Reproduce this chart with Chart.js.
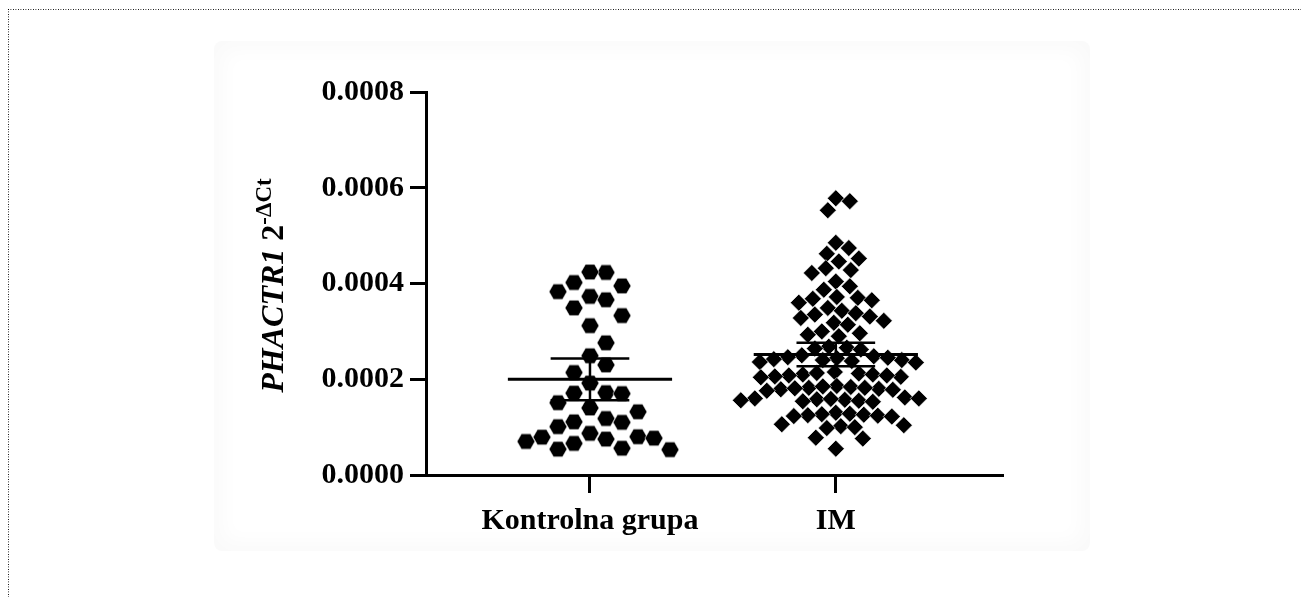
<!DOCTYPE html>
<html lang="sr">
<head>
<meta charset="UTF-8">
<title>PHACTR1 2-ΔCt</title>
<script src="https://cdn.jsdelivr.net/npm/chart.js"></script>
<style>
    body {
        margin: 0;
        background: #fff;
        width: 1301px;
        height: 597px;
        overflow: hidden;
        position: relative;
    }
    .dots-top {
        position: absolute; left: 8px; top: 9px; width: 1293px; height: 1px;
        background-image: linear-gradient(to right, #000 1px, transparent 1px);
        background-size: 2.5px 1px;
    }
    .dots-left {
        position: absolute; left: 8px; top: 9px; width: 1px; height: 588px;
        background-image: linear-gradient(to bottom, #000 1px, transparent 1px);
        background-size: 1px 2.5px;
    }
    .frame {
        position: absolute; left: 214px; top: 41px; width: 876px; height: 510px;
        border-radius: 8px;
        box-shadow: inset 0 0 20px 9px rgba(0, 0, 0, 0.022);
    }
    #wrap { position: absolute; left: 0; top: 0; width: 1301px; height: 597px; }
</style>
</head>
<body>
<div class="dots-top"></div>
<div class="dots-left"></div>
<div class="frame"></div>
<div id="wrap"><canvas id="c"></canvas></div>

<script>
    const categories = ['Kontrolna grupa', 'IM'];

    const kontrolna = [
        0.000423, 0.000424, 0.000402, 0.000395, 0.000383, 0.000373, 0.000366, 0.000349,
        0.000333, 0.000312, 0.000276, 0.000249, 0.000230, 0.000214, 0.000192, 0.000172,
        0.000171, 0.000170, 0.000151, 0.000140, 0.000132, 0.000118, 0.000111, 0.000110,
        0.000101, 0.000087, 0.000080, 0.000079, 0.000077, 0.000075, 0.000070, 0.000066,
        0.000056, 0.000054, 0.000053
    ];

    const im = [
        0.000578, 0.000572, 0.000553,
        0.000485, 0.000474, 0.000462, 0.000452, 0.000446,
        0.000432, 0.000428, 0.000422, 0.000404, 0.000394, 0.000387,
        0.000372, 0.000370, 0.000368, 0.000365, 0.000360,
        0.000349, 0.000343, 0.000338, 0.000335, 0.000331, 0.000328,
        0.000322, 0.000318, 0.000314, 0.000300,
        0.000296, 0.000293, 0.000290,
        0.000268, 0.000266, 0.000264, 0.000262,
        0.000250, 0.000248, 0.000246, 0.000244, 0.000242, 0.000240, 0.000238, 0.000236,
        0.000240, 0.000245, 0.000235,
        0.000215, 0.000212, 0.000210, 0.000208, 0.000206, 0.000210, 0.000213, 0.000205,
        0.000208, 0.000204,
        0.000186, 0.000184, 0.000182, 0.000180, 0.000178, 0.000182, 0.000185, 0.000179,
        0.000181, 0.000176,
        0.000162, 0.000160, 0.000158, 0.000156, 0.000154, 0.000157, 0.000159, 0.000155,
        0.000153, 0.000160,
        0.000130, 0.000128, 0.000126, 0.000124, 0.000122, 0.000127, 0.000125, 0.000123,
        0.000104, 0.000102, 0.000100, 0.000098, 0.000106,
        0.000078, 0.000076,
        0.000055
    ];

    const yTicks = [0, 0.0002, 0.0004, 0.0006, 0.0008];

    const font = { family: 'Liberation Serif', size: 30, weight: 'bold' };

    // mean with 95% confidence interval
    function stats(v) {
        const n = v.length;
        const mean = v.reduce((a, b) => a + b, 0) / n;
        const sd = Math.sqrt(v.reduce((a, b) => a + (b - mean) ** 2, 0) / (n - 1));
        const t = 1.96 + 2.4 / (n - 1);
        const h = t * sd / Math.sqrt(n);
        return { mean: mean, lo: mean - h, hi: mean + h };
    }

    function hexagon(r) {
        const c = document.createElement('canvas');
        c.width = c.height = 2 * r + 2;
        const g = c.getContext('2d');
        g.beginPath();
        for (let k = 0; k < 6; k++) {
            const a = k * Math.PI / 3;
            g.lineTo(r + 1 + r * Math.cos(a), r + 1 + r * Math.sin(a));
        }
        g.closePath();
        g.fillStyle = '#000';
        g.fill();
        g.lineWidth = 0.6;
        g.strokeStyle = '#fff';
        g.stroke();
        return c;
    }

    function meanLines(i, s) {
        const w = 0.334;
        return [{ x: i - w, y: s.mean }, { x: i + w, y: s.mean }];
    }

    function ciLines(i, s) {
        const e = 0.16;
        return [
            { x: i - e, y: s.hi }, { x: i + e, y: s.hi }, { x: i, y: null },
            { x: i - e, y: s.lo }, { x: i + e, y: s.lo }, { x: i, y: null },
            { x: i, y: s.hi }, { x: i, y: s.lo }
        ];
    }

    const groups = [kontrolna, im];
    const st = groups.map(stats);

    const yTitle = {
        id: 'yTitle',
        afterDraw(c) {
            const g = c.ctx, a = c.chartArea;
            const cy = (a.top + a.bottom) / 2 + 2;
            const bx = a.left - 143;
            const f1 = 'italic bold 32px "Liberation Serif"';
            const f2 = 'bold 32px "Liberation Serif"';
            const f3 = 'bold 23px "Liberation Serif"';
            g.save();
            g.font = f1; const w1 = g.measureText('PHACTR1').width;
            g.font = f2; const w2 = g.measureText(' 2').width;
            g.font = f3; const w3 = g.measureText('-ΔCt').width;
            g.translate(bx, cy);
            g.rotate(-Math.PI / 2);
            g.fillStyle = '#000';
            g.textBaseline = 'alphabetic';
            let x = -(w1 + w2 + w3) / 2;
            g.font = f1; g.fillText('PHACTR1', x, 0); x += w1;
            g.font = f2; g.fillText(' 2', x, 0); x += w2;
            g.font = f3; g.fillText('-ΔCt', x, -12);
            g.restore();
        }
    };

    const chart = new Chart(document.getElementById('c'), {
        type: 'scatter',
        data: {
            datasets: [
                {
                    data: meanLines(0, st[0]).concat([{ x: 0, y: null }], meanLines(1, st[1])),
                    showLine: true, borderColor: '#000', borderWidth: 3, pointRadius: 0, order: 0
                },
                {
                    data: ciLines(0, st[0]).concat([{ x: 0, y: null }], ciLines(1, st[1])),
                    showLine: true, borderColor: '#000', borderWidth: 2.5, pointRadius: 0, order: 0
                },
                {
                    label: categories[0],
                    data: kontrolna.map(v => ({ x: 0, y: v })),
                    pointStyle: hexagon(9), pointRadius: 9, order: 1
                },
                {
                    label: categories[1],
                    data: im.map(v => ({ x: 1, y: v })),
                    pointStyle: 'rectRot', pointRadius: 8.5,
                    pointBackgroundColor: '#000', pointBorderColor: '#fff', pointBorderWidth: 0.6, order: 1
                }
            ]
        },
        options: {
            responsive: true,
            maintainAspectRatio: false,
            animation: false,
            events: [],
            layout: { padding: { left: 0, top: 92, right: 298, bottom: 0 } },
            plugins: { legend: { display: false }, tooltip: { enabled: false } },
            scales: {
                x: {
                    type: 'linear',
                    min: -0.667,
                    max: 1.68,
                    afterBuildTicks: s => { s.ticks = categories.map((_, i) => ({ value: i })); },
                    afterFit: s => { s.height = 122; },
                    ticks: { callback: v => categories[v], font: font, color: '#000', padding: 10, maxRotation: 0 },
                    grid: { drawOnChartArea: false, drawTicks: true, tickLength: 18, tickWidth: 3, tickColor: '#000' },
                    border: { display: true, color: '#000', width: 3 }
                },
                y: {
                    min: 0,
                    max: 0.0008,
                    afterBuildTicks: s => { s.ticks = yTicks.map(v => ({ value: v })); },
                    afterFit: s => { s.width = 426; },
                    ticks: { callback: v => v.toFixed(4), font: font, color: '#000', padding: 6 },
                    grid: { drawOnChartArea: false, drawTicks: true, tickLength: 16, tickWidth: 3, tickColor: '#000' },
                    border: { display: true, color: '#000', width: 3 }
                }
            }
        },
        plugins: [yTitle]
    });

    // spread the points sideways so they don't pile up (beeswarm)
    // rect = true: points closer than h vertically sit side by side
    function swarm(values, group, w, h, rect) {
        const xs = chart.scales.x, ys = chart.scales.y;
        const cx = xs.getPixelForValue(group);
        const idx = values.map((v, i) => i).sort((a, b) => values[b] - values[a]);
        const placed = [];
        const out = new Array(values.length);
        idx.forEach(i => {
            const py = ys.getPixelForValue(values[i]);
            for (let k = 0; k < 400; k++) {
                const dx = (k % 2 ? 1 : -1) * Math.ceil(k / 2);
                const ok = placed.every(p => rect
                    ? (Math.abs(p.x - dx) >= w || Math.abs(p.y - py) >= h)
                    : ((p.x - dx) / w) ** 2 + ((p.y - py) / h) ** 2 >= 1);
                if (ok) {
                    placed.push({ x: dx, y: py });
                    out[i] = { x: xs.getValueForPixel(cx + dx), y: values[i] };
                    break;
                }
            }
        });
        return out;
    }

    chart.data.datasets[2].data = swarm(kontrolna, 0, 16, 20, true);
    chart.data.datasets[3].data = swarm(im, 1, 14, 14, false);
    chart.update('none');
</script>
</body>
</html>
